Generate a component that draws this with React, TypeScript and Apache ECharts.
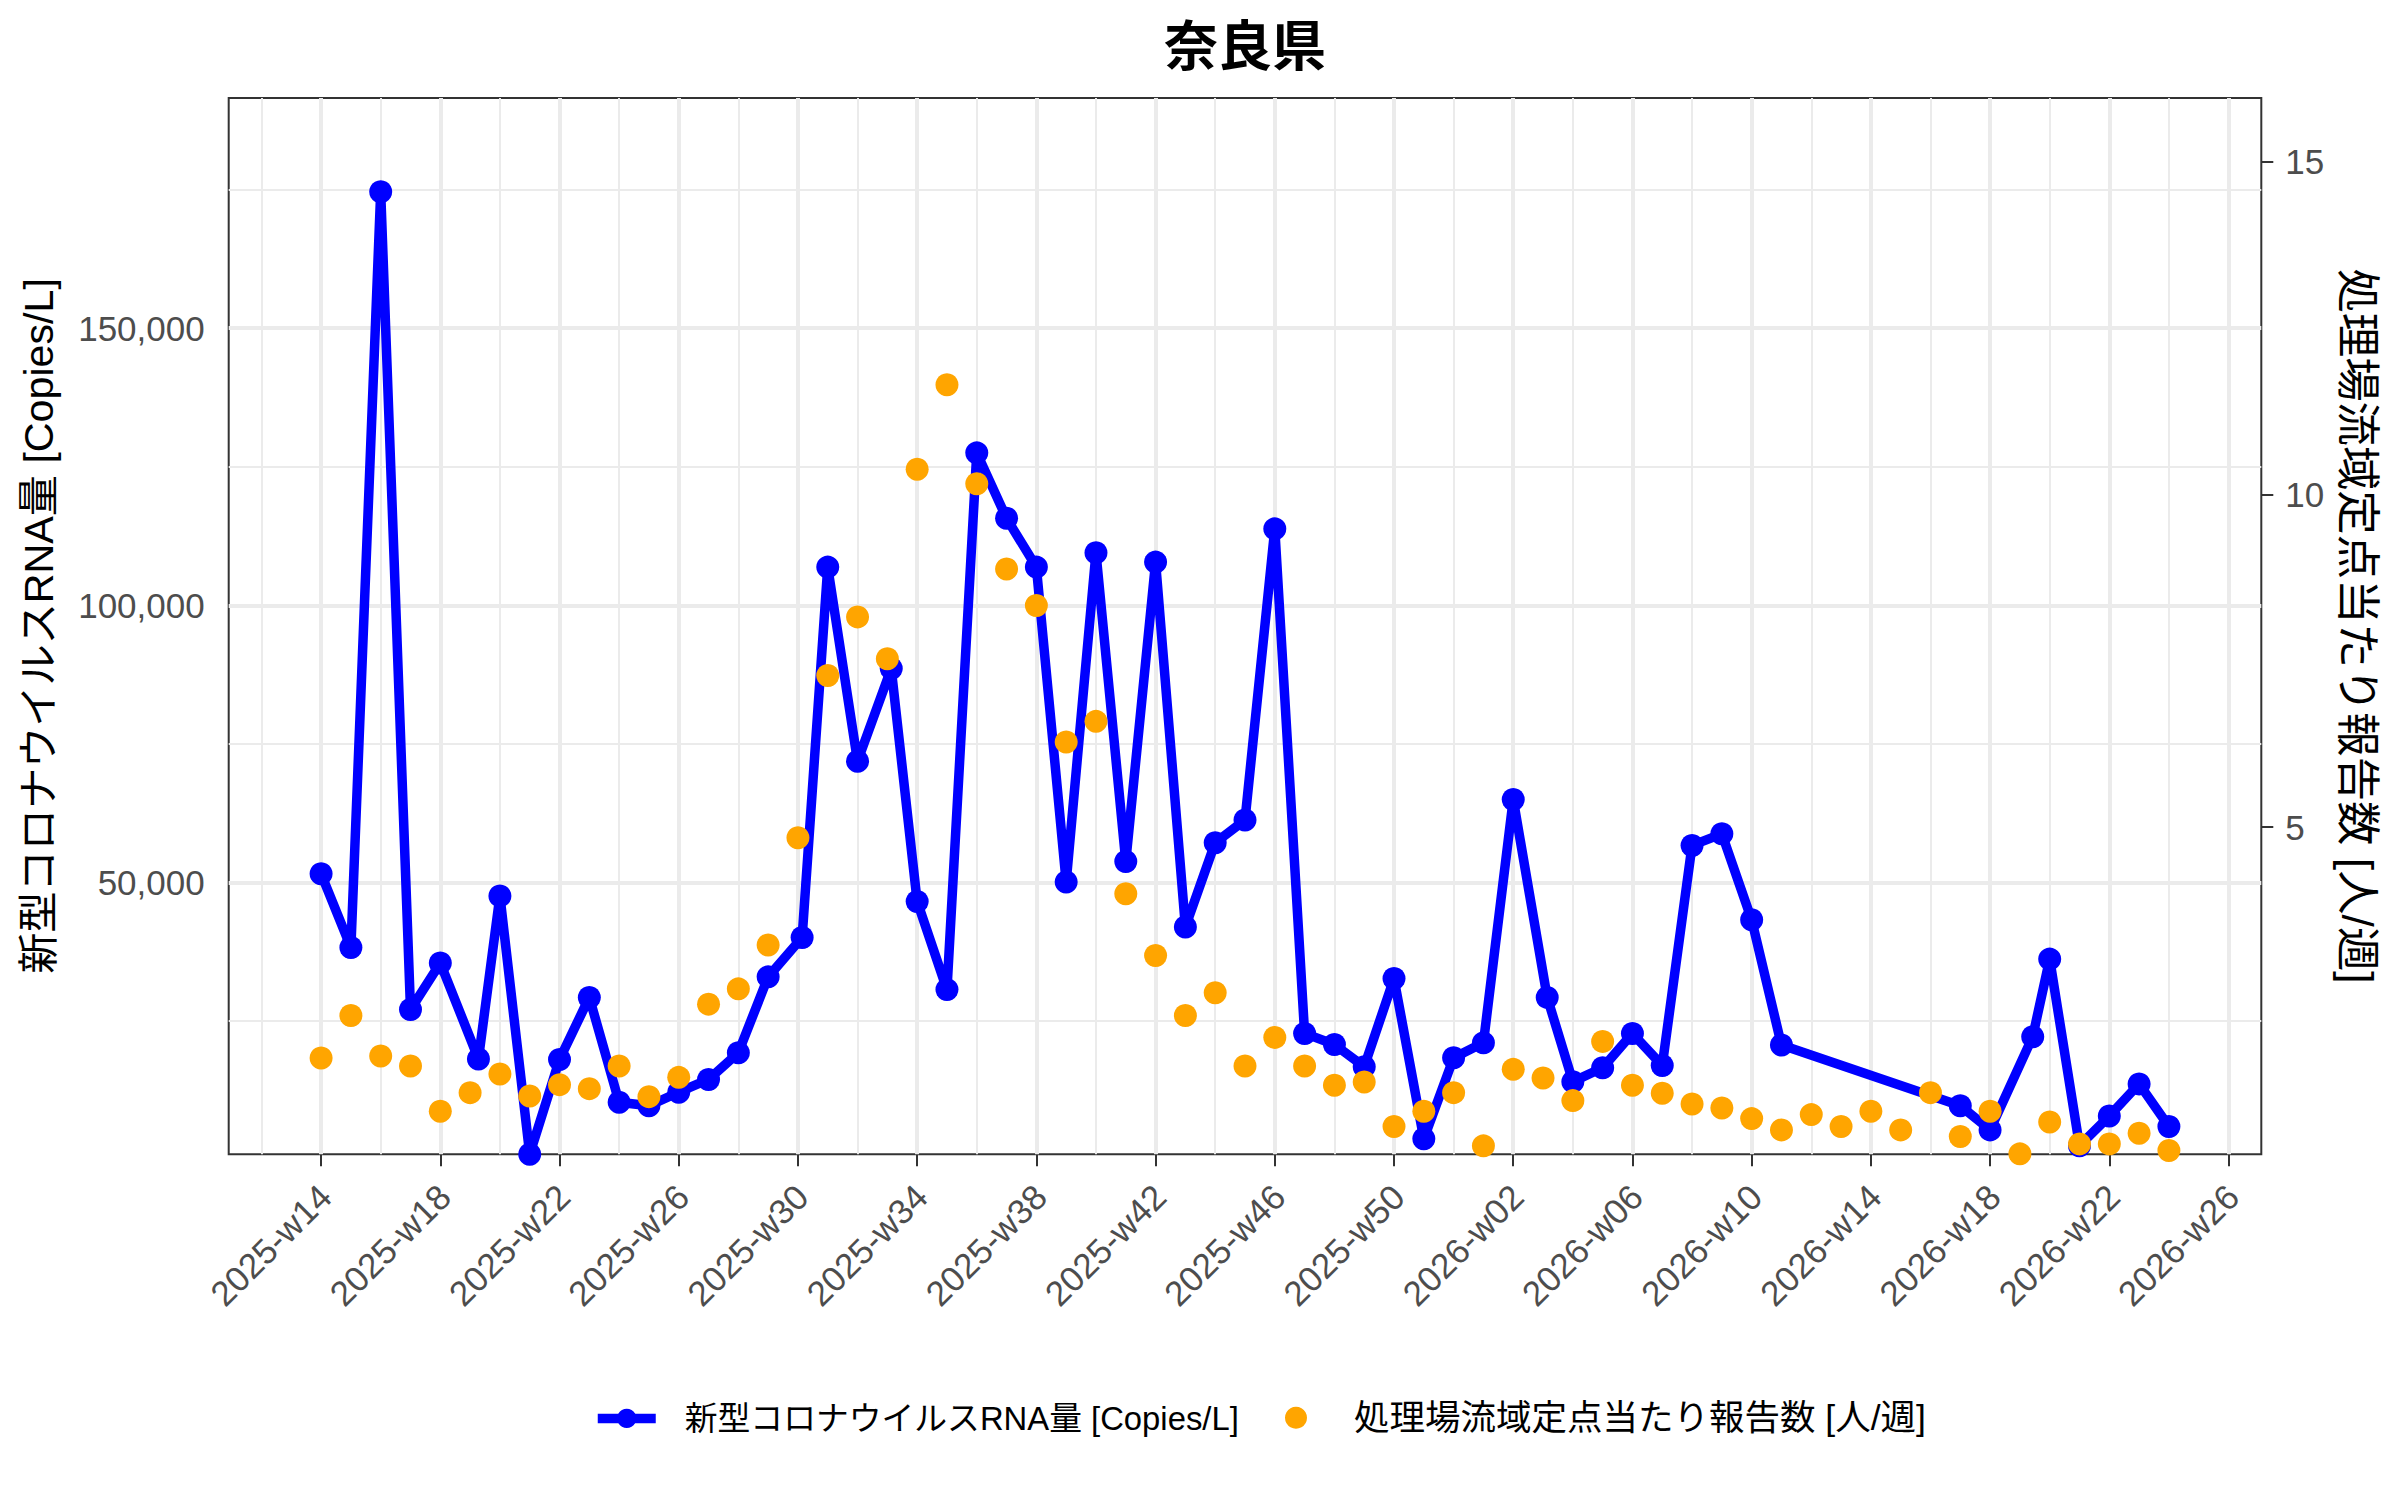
import React, { useEffect, useRef } from "react";
import * as echarts from "echarts";

// ---- Data ----
// x positions are week offsets from 2025-w14 (0) ; tick labels every 4 weeks
const tickWeekPos = [0, 4, 8, 12, 16, 20, 24, 28, 32, 36, 40, 44, 48, 52, 56, 60, 64];
const tickLabels = [
  "2025-w14", "2025-w18", "2025-w22", "2025-w26", "2025-w30", "2025-w34",
  "2025-w38", "2025-w42", "2025-w46", "2025-w50", "2026-w02", "2026-w06",
  "2026-w10", "2026-w14", "2026-w18", "2026-w22", "2026-w26",
];
const minorWeekPos = [-2, 2, 6, 10, 14, 18, 22, 26, 30, 34, 38, 42, 46, 50, 54, 58, 62];

const leftTicks = [50000, 100000, 150000];
const leftMinorTicks = [25000, 75000, 125000, 175000];
const rightTicks = [5, 10, 15];

// RNA (Copies/L) — sampling positions (week offsets) and values
const rnaWeekPos = [
  0, 1, 2, 3, 4, 5.28, 6, 7, 8, 9, 10, 11, 12, 13, 14, 15, 16.14, 17, 18, 19.13,
  20, 21, 22, 23, 24, 25, 26, 27, 28, 29, 30, 31, 32, 33, 34, 35, 36, 37, 38, 39,
  40, 41.14, 42, 43, 44, 45, 46, 47, 48, 49, 55, 56, 57.43, 58, 59, 60, 61, 62,
];
const rnaValues = [
  51600, 38300, 174600, 27100, 35500, 18200, 47600, 1000, 18100, 29300, 10400, 9750,
  12200, 14500, 19300, 33000, 40100, 106900, 71900, 88600, 46600, 30700, 127500,
  115700, 106900, 50100, 109500, 53800, 107800, 42000, 57200, 61300, 113800, 22800,
  20800, 16800, 32700, 3800, 18400, 21100, 65000, 29300, 14100, 16600, 22800, 17000,
  56700, 58800, 43300, 20700, 9750, 5400, 22200, 36200, 2550, 7900, 13700, 6000,
];

// Reports per sentinel [人/週] — one per week, offsets 0..62
const reportWeekPos = [
  0, 1, 2, 3, 4, 5, 6, 7, 8, 9, 10, 11, 12, 13, 14, 15, 16, 17, 18, 19, 20, 21, 22,
  23, 24, 25, 26, 27, 28, 29, 30, 31, 32, 33, 34, 35, 36, 37, 38, 39, 40, 41, 42, 43,
  44, 45, 46, 47, 48, 49, 50, 51, 52, 53, 54, 55, 56, 57, 58, 59, 60, 61, 62,
];
const reportValues = [
  1.53, 2.17, 1.56, 1.41, 0.73, 1.01, 1.29, 0.96, 1.13, 1.07, 1.41, 0.95, 1.24, 2.34,
  2.57, 3.23, 4.84, 7.28, 8.16, 7.53, 10.38, 11.65, 10.16, 8.88, 8.33, 6.28, 6.59,
  4.0, 3.07, 2.17, 2.51, 1.41, 1.84, 1.41, 1.12, 1.17, 0.5, 0.73, 1.01, 0.21, 1.36,
  1.23, 0.89, 1.78, 1.12, 1.0, 0.84, 0.78, 0.62, 0.45, 0.68, 0.5, 0.73, 0.45, 1.01,
  0.35, 0.73, 0.09, 0.57, 0.24, 0.24, 0.4, 0.14,
];

const SEC_RATIO = 12000; // left / right
const Y_MIN = 1000;
const Y_MAX = 191500;
const X_MIN = -3.1;
const X_MAX = 65.1;

const TITLE = "奈良県";
const RNA_NAME = "新型コロナウイルスRNA量 [Copies/L]";
const REPORT_NAME = "処理場流域定点当たり報告数 [人/週]";

const FONT = "'Liberation Sans', Arial, 'Noto Sans CJK JP', sans-serif";
const CJK_FONT = "'Noto Sans CJK JP', sans-serif";
const LABEL_SHIFT = -0.28;
const LINE_W = 9.5;

export default function App() {
  const ref = useRef<HTMLDivElement>(null);

  useEffect(() => {
    if (!ref.current) return;
    const chart = echarts.init(ref.current, null, { renderer: "svg" });

    const gridLines: any[] = [
      ...minorWeekPos.map((v) => ({ xAxis: v, lineStyle: { width: 2 } })),
      ...leftMinorTicks.map((v) => ({ yAxis: v, lineStyle: { width: 2 } })),
      ...tickWeekPos.map((v) => ({ xAxis: v, lineStyle: { width: 4 } })),
      ...leftTicks.map((v) => ({ yAxis: v, lineStyle: { width: 4 } })),
    ];

    const labelPos = tickWeekPos.map((p) => p + LABEL_SHIFT);

    chart.setOption({
      animation: false,
      backgroundColor: "#ffffff",
      textStyle: { fontFamily: FONT },
      grid: {
        left: 228.7,
        right: 2400 - 2261.3,
        top: 98,
        bottom: 1500 - 1154.3,
        show: true,
        borderColor: "#333333",
        borderWidth: 2,
        backgroundColor: "#ffffff",
      },
      graphic: [
        {
          type: "text",
          x: 1245,
          y: 42,
          style: {
            text: TITLE,
            fontSize: 54,
            fontWeight: "bold",
            fontFamily: CJK_FONT,
            fill: "#000000",
            align: "center",
            verticalAlign: "middle",
            textAlign: "center",
            textVerticalAlign: "middle",
          },
        },
        {
          type: "text",
          x: 39,
          y: 626,
          rotation: Math.PI / 2,
          style: {
            text: RNA_NAME,
            fontSize: 41.2,
            fontFamily: FONT,
            fill: "#000000",
            align: "center",
            verticalAlign: "middle",
            textAlign: "center",
            textVerticalAlign: "middle",
          },
        },
        {
          type: "text",
          x: 2357,
          y: 626,
          rotation: -Math.PI / 2,
          style: {
            text: REPORT_NAME,
            fontSize: 44.4,
            fontFamily: FONT,
            fill: "#000000",
            align: "center",
            verticalAlign: "middle",
            textAlign: "center",
            textVerticalAlign: "middle",
          },
        },
      ],
      legend: [
        {
          left: 593,
          top: 1402,
          padding: 0,
          itemWidth: 58,
          itemHeight: 24,
          textStyle: {
            fontSize: 32.8,
            color: "#000000",
            fontFamily: FONT,
            padding: [0, 0, 0, 24],
          },
          data: [
            {
              name: RNA_NAME,
              lineStyle: { width: LINE_W, color: "#0000FF" },
              itemStyle: { color: "#0000FF" },
            },
          ],
        },
        {
          left: 1285,
          top: 1400,
          padding: 0,
          itemWidth: 22,
          itemHeight: 22,
          textStyle: {
            fontSize: 35.5,
            color: "#000000",
            fontFamily: FONT,
            padding: [0, 0, 0, 42],
          },
          data: [{ name: REPORT_NAME, icon: "circle", itemStyle: { color: "#FFA500" } }],
        },
      ],
      xAxis: {
        type: "value",
        min: X_MIN,
        max: X_MAX,
        axisLine: { show: false, onZero: false },
        splitLine: { show: false },
        axisTick: {
          show: true,
          length: 12,
          lineStyle: { color: "#333333", width: 2 },
          customValues: tickWeekPos,
        },
        axisLabel: {
          customValues: labelPos,
          rotate: 45,
          align: "right",
          verticalAlign: "top",
          margin: 24,
          fontSize: 35,
          color: "#4D4D4D",
          fontFamily: FONT,
          formatter: (v: number) => {
            const idx = labelPos.findIndex((p) => Math.abs(p - v) < 1e-6);
            return idx >= 0 ? tickLabels[idx] : "";
          },
        },
      },
      yAxis: [
        {
          type: "value",
          min: Y_MIN,
          max: Y_MAX,
          position: "left",
          axisLine: { show: false },
          splitLine: { show: false },
          axisTick: {
            show: true,
            length: 12,
            lineStyle: { color: "#333333", width: 2 },
            customValues: leftTicks,
          },
          axisLabel: {
            customValues: leftTicks,
            margin: 24,
            fontSize: 35,
            color: "#4D4D4D",
            fontFamily: FONT,
            formatter: (v: number) => v.toLocaleString("en-US"),
          },
        },
        {
          type: "value",
          min: Y_MIN / SEC_RATIO,
          max: Y_MAX / SEC_RATIO,
          position: "right",
          axisLine: { show: false },
          splitLine: { show: false },
          axisTick: {
            show: true,
            length: 12,
            lineStyle: { color: "#333333", width: 2 },
            customValues: rightTicks,
          },
          axisLabel: {
            customValues: rightTicks,
            margin: 24,
            fontSize: 35,
            color: "#4D4D4D",
            fontFamily: FONT,
            formatter: (v: number) => String(v),
          },
        },
      ],
      series: [
        {
          name: RNA_NAME,
          type: "line",
          xAxisIndex: 0,
          yAxisIndex: 0,
          data: rnaWeekPos.map((x, i) => [x, rnaValues[i]]),
          symbol: "circle",
          symbolSize: 23,
          showAllSymbol: true,
          lineStyle: { color: "#0000FF", width: LINE_W },
          itemStyle: { color: "#0000FF" },
          emphasis: { disabled: true },
          z: 2,
          markLine: {
            silent: true,
            z: 1,
            symbol: ["none", "none"],
            label: { show: false },
            emphasis: { disabled: true },
            lineStyle: { color: "#EBEBEB", type: "solid" },
            data: gridLines,
          },
        },
        {
          name: REPORT_NAME,
          type: "scatter",
          xAxisIndex: 0,
          yAxisIndex: 1,
          data: reportWeekPos.map((x, i) => [x, reportValues[i]]),
          symbol: "circle",
          symbolSize: 23,
          itemStyle: { color: "#FFA500", opacity: 1 },
          emphasis: { disabled: true },
          z: 3,
        },
      ],
    });

    return () => chart.dispose();
  }, []);

  return (
    <div
      ref={ref}
      style={{ position: "fixed", left: 0, top: 0, width: 2400, height: 1500 }}
    />
  );
}
